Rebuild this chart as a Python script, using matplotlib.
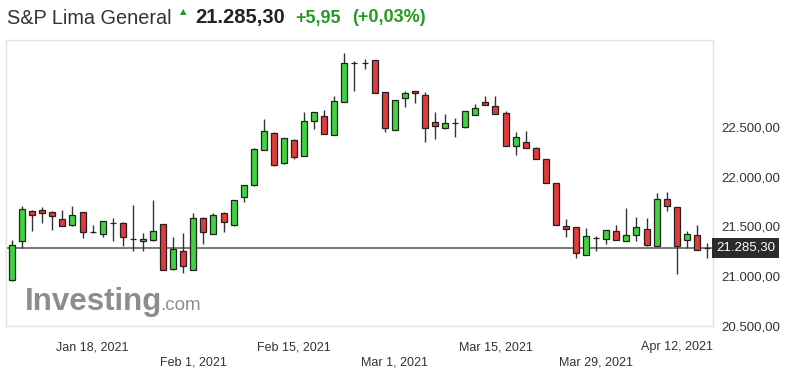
import matplotlib.pyplot as plt
import matplotlib.transforms as mtransforms
from matplotlib.ticker import FuncFormatter
import numpy as np

plt.rcParams['font.family'] = ['Liberation Sans', 'DejaVu Sans']

# -------------------------
# Data (daily OHLC, trading-day index)
# -------------------------
opens = [20960, 21350, 21650, 21660, 21640, 21570, 21510, 21640, 21440, 21420,
         21530, 21530, 21370, 21350, 21360, 21520, 21070, 21250, 21060, 21580,
         21420, 21630, 21510, 21790, 21910, 22270, 22440, 22140, 22370, 22210,
         22560, 22610, 22420, 22750, 23140, 23140, 23170, 22850, 22470, 22790,
         22860, 22820, 22550, 22490, 22540, 22500, 22620, 22750, 22710, 22640,
         22310, 22350, 22290, 22180, 21930, 21500, 21490, 21210, 21380, 21370,
         21450, 21350, 21410, 21470, 21300, 21770, 21690, 21360, 21410, 21285]
highs = [21360, 21700, 21660, 21690, 21650, 21660, 21700, 21640, 21510, 21550,
         21580, 21540, 21710, 21430, 21760, 21520, 21390, 21430, 21630, 21590,
         21630, 21640, 21760, 21910, 22290, 22580, 22450, 22390, 22380, 22650,
         22650, 22670, 22810, 23240, 23160, 23180, 23170, 22850, 22770, 22860,
         22860, 22850, 22650, 22630, 22590, 22660, 22730, 22810, 22810, 22660,
         22450, 22460, 22300, 22180, 21930, 21570, 21490, 21480, 21400, 21460,
         21510, 21680, 21590, 21580, 21830, 21840, 21690, 21450, 21510, 21330]
lows = [20950, 21280, 21450, 21530, 21460, 21500, 21500, 21380, 21435, 21390,
        21350, 21300, 21250, 21250, 21350, 21060, 21060, 21030, 21060, 21320,
        21420, 21440, 21500, 21740, 21900, 22270, 22110, 22130, 22180, 22210,
        22480, 22430, 22420, 22750, 22860, 23080, 22840, 22450, 22470, 22700,
        22740, 22350, 22380, 22480, 22400, 22490, 22620, 22720, 22630, 22310,
        22220, 22290, 22180, 21930, 21510, 21390, 21180, 21210, 21250, 21320,
        21360, 21350, 21350, 21300, 21300, 21650, 21020, 21280, 21260, 21180]
closes = [21310, 21670, 21610, 21630, 21600, 21500, 21610, 21440, 21440, 21550,
          21530, 21390, 21370, 21370, 21450, 21060, 21270, 21100, 21580, 21440,
          21610, 21540, 21760, 21910, 22280, 22460, 22120, 22390, 22200, 22560,
          22650, 22430, 22760, 23140, 23140, 23140, 22840, 22490, 22770, 22840,
          22840, 22490, 22510, 22540, 22540, 22660, 22690, 22720, 22630, 22310,
          22400, 22290, 22180, 21930, 21510, 21470, 21230, 21400, 21380, 21460,
          21360, 21410, 21490, 21310, 21770, 21700, 21300, 21420, 21260, 21285]

last_price = 21285.30
tick_idx = [8, 18, 28, 38, 48, 58, 68]
tick_text = ['Jan 18, 2021', 'Feb 1, 2021', 'Feb 15, 2021', 'Mar 1, 2021',
             'Mar 15, 2021', 'Mar 29, 2021', 'Apr 12, 2021']
y_ticks = [20500, 21000, 21500, 22000, 22500]

# -------------------------
# Figure
# -------------------------
W, H = 790, 376
fig = plt.figure(figsize=(W / 100, H / 100), dpi=100)
ax = fig.add_axes([6 / W, 1 - 326 / H, 707 / W, 286 / H])

o = np.array(opens, float)
h = np.array(highs, float)
l = np.array(lows, float)
c = np.array(closes, float)
x = np.arange(len(o))

GREEN = '#3fd43f'
RED = '#e33a3a'
colors = np.where(c > o, GREEN, np.where(c < o, RED, '#222222'))

ax.axhline(last_price, color='#555555', lw=1.1, zorder=1)
ax.vlines(x, l, h, color='#333333', lw=1.0, zorder=2)
body_h = np.maximum(np.abs(c - o), 1)
ax.bar(x, body_h, bottom=np.minimum(o, c), width=0.6, color=colors,
       edgecolor='#222222', linewidth=0.9, zorder=3)

ax.set_xlim(-0.6, 69.6)
ax.set_ylim(20505, 23370)

for s in ax.spines.values():
    s.set_color('#e2e2e2')
    s.set_linewidth(1)

# y axis on the right
ax.yaxis.tick_right()
ax.set_yticks(y_ticks)
ax.yaxis.set_major_formatter(FuncFormatter(
    lambda v, p: f'{v:,.2f}'.replace(',', 'X').replace('.', ',').replace('X', '.')))
ax.tick_params(axis='y', length=0, pad=6, labelsize=9.5, labelcolor='#333333')

# x labels in two alternating rows
ax.set_xticks([])
trans = mtransforms.blended_transform_factory(ax.transData, ax.transAxes)
for i, (xi, txt) in enumerate(zip(tick_idx, tick_text)):
    yy = -0.075 if i % 2 == 0 else -0.128
    if i == len(tick_idx) - 1:
        ax.text(1.0, yy, txt, transform=ax.transAxes, ha='right', va='center',
                fontsize=9, color='#333333')
    else:
        ax.text(xi, yy, txt, transform=trans, ha='center', va='center',
                fontsize=9, color='#333333')

# current price tag
ptrans = mtransforms.blended_transform_factory(ax.transAxes, ax.transData)
ax.text(1.004, last_price, '21.285,30', transform=ptrans, ha='left', va='center',
        fontsize=9.5, color='white',
        bbox=dict(boxstyle='square,pad=0.3', fc='#2b2b2b', ec='none'))

# -------------------------
# Header
# -------------------------
ty = 1 - 18 / H
fig.text(7 / W, ty, 'S&P Lima General', fontsize=14.3, color='#333333', va='center')
fig.text(180 / W, 1 - 12 / H, '▲', fontsize=6, color='#229a22', va='center',
         family='DejaVu Sans')
fig.text(195 / W, ty, '21.285,30', fontsize=14.5, fontweight='bold',
         color='#222222', va='center')
fig.text(295 / W, ty, '+5,95', fontsize=13, fontweight='bold',
         color='#229a22', va='center')
fig.text(352 / W, ty, '(+0,03%)', fontsize=13, fontweight='bold',
         color='#229a22', va='center')

# watermark
fig.text(25 / W, 1 - 310 / H, 'Investing', fontsize=22.5, fontweight='bold',
         color='#8d8d8d', va='baseline')
fig.text(160 / W, 1 - 310 / H, '.com', fontsize=13.5, color='#8d8d8d', va='baseline')

plt.savefig('out.png', dpi=100)
